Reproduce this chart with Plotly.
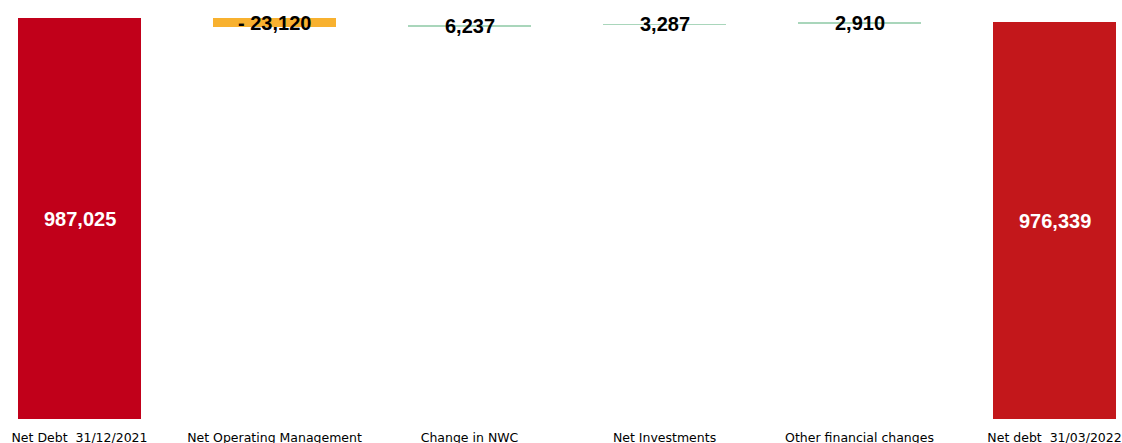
import plotly.graph_objects as go

categories = ["Net Debt  31/12/2021", "Net Operating Management", "Change in NWC",
              "Net Investments", "Other financial changes", "Net debt  31/03/2022"]
values = [987025, -23120, 6237, 3287, 2910, 976339]
labels = ["987,025", "- 23,120", "6,237", "3,287", "2,910", "976,339"]
kinds = ["total", "delta", "delta", "delta", "delta", "total"]
colors = ["#C1001A", "#F8B12F", "#A9D6BB", "#A9D6BB", "#A9D6BB", "#C3171B"]
label_colors = ["white", "black", "black", "black", "black", "white"]

bases = []
heights = []
running = 0
for v, k in zip(values, kinds):
    if k == "total":
        bases.append(0)
        heights.append(v)
        running = v
    else:
        if v >= 0:
            bases.append(running)
            heights.append(v)
        else:
            bases.append(running + v)
            heights.append(-v)
        running += v

xs = list(range(len(categories)))
fig = go.Figure()
fig.add_trace(go.Bar(x=xs, y=heights, base=bases, marker=dict(color=colors, line=dict(width=0)),
                     width=0.63, hoverinfo="skip"))

for i in xs:
    fig.add_annotation(x=i, y=bases[i] + heights[i] / 2, text="<b>%s</b>" % labels[i],
                       showarrow=False, font=dict(family="Liberation Sans, Arial", size=20,
                                                  color=label_colors[i]),
                       xanchor="center", yanchor="middle")

fig.update_layout(
    width=1122, height=443,
    margin=dict(l=0, r=0, t=18, b=24, autoexpand=False),
    paper_bgcolor="white", plot_bgcolor="white",
    showlegend=False, bargap=0,
    xaxis=dict(range=[-0.4077, 5.346], tickmode="array", tickvals=xs, ticktext=categories,
               showgrid=False, zeroline=False, showline=False, ticks="", automargin=False,
               ticklabelstandoff=9,
               tickfont=dict(family="DejaVu Sans", size=12.5, color="black")),
    yaxis=dict(range=[0, 987025], visible=False, showgrid=False, zeroline=False),
)

fig.write_html("out.html", config={"displayModeBar": False, "staticPlot": True},
               post_script="document.body.style.margin='0';document.body.style.overflow='hidden';")
